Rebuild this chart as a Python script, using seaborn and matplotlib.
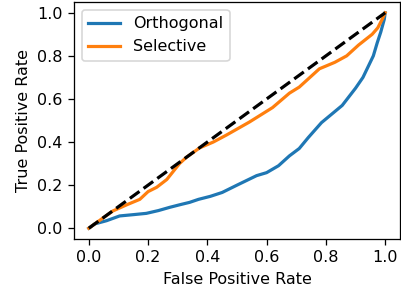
import numpy as np
import pandas as pd
import matplotlib
matplotlib.use("Agg")
import matplotlib.pyplot as plt
import seaborn as sns

# ROC points
orth_fpr = [0.0, 0.02, 0.06, 0.104, 0.15, 0.194, 0.235, 0.273, 0.31, 0.34, 0.37, 0.41, 0.45,
            0.5, 0.566, 0.6, 0.64, 0.677, 0.71, 0.74, 0.785, 0.82, 0.855, 0.9, 0.925,
            0.946, 0.96, 0.973, 0.985, 0.997, 1.0]
orth_tpr = [0.0, 0.02, 0.035, 0.057, 0.063, 0.069, 0.082, 0.097, 0.11, 0.12, 0.134, 0.148, 0.166,
            0.2, 0.244, 0.258, 0.29, 0.336, 0.37, 0.42, 0.49, 0.53, 0.57, 0.65, 0.7,
            0.76, 0.8, 0.86, 0.91, 0.97, 1.0]

sel_fpr = [0.0, 0.03, 0.081, 0.13, 0.172, 0.2, 0.229, 0.263, 0.306, 0.33, 0.374, 0.42,
           0.465, 0.542, 0.62, 0.677, 0.71, 0.778, 0.83, 0.87, 0.91, 0.956, 0.975, 0.99, 1.0]
sel_tpr = [0.0, 0.03, 0.08, 0.11, 0.134, 0.17, 0.19, 0.226, 0.30, 0.33, 0.373, 0.40,
           0.433, 0.493, 0.56, 0.627, 0.655, 0.74, 0.77, 0.80, 0.85, 0.90, 0.93, 0.97, 1.0]

df = pd.concat([
    pd.DataFrame({"fpr": orth_fpr, "tpr": orth_tpr, "method": "Orthogonal"}),
    pd.DataFrame({"fpr": sel_fpr, "tpr": sel_tpr, "method": "Selective"}),
])

dpi = 115
fig = plt.figure(figsize=(401 / dpi, 291 / dpi), dpi=dpi)
ax = fig.add_axes([74 / 401, 1 - 239 / 291, 326 / 401, 237 / 291])

sns.lineplot(data=df, x="fpr", y="tpr", hue="method", palette=["#1f77b4", "#ff7f0e"],
             estimator=None, sort=False, lw=2, ax=ax)
ax.plot([0, 1], [0, 1], color="black", linestyle="--", lw=2)

ax.set_xlabel("False Positive Rate")
ax.set_ylabel("True Positive Rate")
ax.set_xticks([0.0, 0.2, 0.4, 0.6, 0.8, 1.0])
ax.set_yticks([0.0, 0.2, 0.4, 0.6, 0.8, 1.0])
ax.legend(title=None, loc="upper left")

fig.savefig("out.png", dpi=dpi)
